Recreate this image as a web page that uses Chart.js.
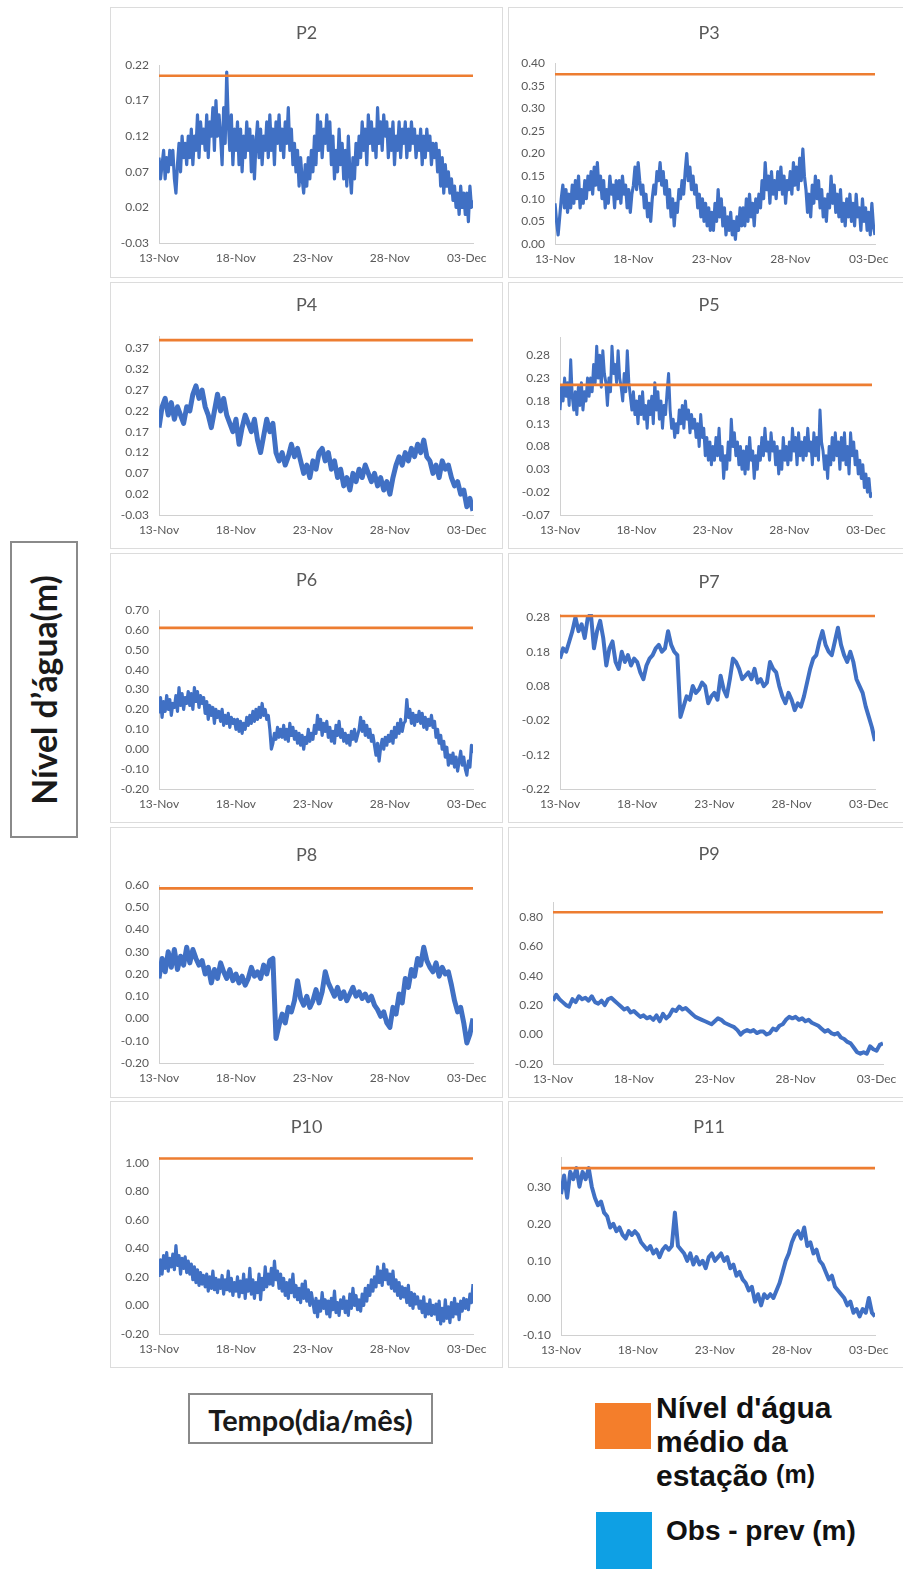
<!DOCTYPE html>
<html lang="pt">
<head>
<meta charset="utf-8">
<title>Nível d'água – estações P2 a P11</title>
<script src="https://cdn.jsdelivr.net/npm/chart.js@4.4.1/dist/chart.umd.min.js"></script>
<style>
  html, body { margin: 0; padding: 0; background: #fff; }
  body { width: 903px; height: 1569px; position: relative; overflow: hidden; }
  .panel { position: absolute; box-sizing: border-box; border: 1px solid #dcdcdc; background: #fff; }
  .panel canvas { position: absolute; left: 0; top: 0; }
  .labelbox { position: absolute; box-sizing: border-box; border: 2px solid #8a8a8a; background: #fff; }
  .labelbox span { position: absolute; left: 50%; top: 50%; white-space: nowrap;
    font-family: Lato, "Open Sans", sans-serif; font-weight: 700; color: #1a1a1a; }
  .vtext { transform: translate(-50%, -50%) rotate(-90deg); font-size: 26px; }
  .htext { transform: translate(-50%, -50%); font-size: 22px; }
  .swatch { position: absolute; }
  .legtext { position: absolute; white-space: nowrap; font-family: "Liberation Sans", Arial, sans-serif;
    font-weight: 700; font-size: 28px; line-height: 34px; color: #111; }
  .legtext.big { font-size: 30px; line-height: 34px; }
  .legtext .small { font-size: 25px; position: relative; top: -3px; }
</style>
</head>
<body>

<div class="labelbox" style="left:10px;top:541px;width:68px;height:297px;">
  <span class="vtext" data-fit="230">Nível d’água(m)</span>
</div>
<div class="labelbox" style="left:188px;top:1393px;width:245px;height:51px;">
  <span class="htext" data-fit="205">Tempo(dia/mês)</span>
</div>

<div class="swatch" style="left:595px;top:1403px;width:56px;height:46px;background:#F47E2B;"></div>
<div class="legtext big" style="left:656px;top:1391px;">Nível d'água<br>médio da<br>estação <span class="small">(m)</span></div>
<div class="swatch" style="left:596px;top:1512px;width:56px;height:57px;background:#0EA0E4;"></div>
<div class="legtext" style="left:666px;top:1514px;">Obs - prev (m)</div>

<script>
// Residual series start on 13-Nov 00:00; x is measured in days from that instant.
const X_MAX = 20.4;
const xTickDays = [0, 5, 10, 15, 20];
const xTickLabels = ['13-Nov', '18-Nov', '23-Nov', '28-Nov', '03-Dec'];

// ---- P2 (one value every 0.1 day) ----
const p2Obs = [
  0.09, 0.06, 0.08, 0.10, 0.06, 0.09, 0.07, 0.10, 0.08, 0.10,
  0.06, 0.04, 0.08, 0.11, 0.07, 0.12, 0.09, 0.11, 0.08, 0.12,
  0.09, 0.13, 0.08, 0.12, 0.10, 0.15, 0.09, 0.14, 0.11, 0.13,
  0.10, 0.15, 0.09, 0.14, 0.12, 0.16, 0.10, 0.17, 0.12, 0.15,
  0.12, 0.08, 0.16, 0.11, 0.21, 0.14, 0.10, 0.15, 0.08, 0.13,
  0.10, 0.14, 0.08, 0.13, 0.07, 0.12, 0.09, 0.14, 0.10, 0.13,
  0.07, 0.12, 0.06, 0.11, 0.14, 0.09, 0.13, 0.08, 0.12, 0.10,
  0.14, 0.09, 0.15, 0.10, 0.13, 0.08, 0.14, 0.11, 0.15, 0.10,
  0.13, 0.09, 0.14, 0.11, 0.16, 0.10, 0.13, 0.08, 0.11, 0.07,
  0.10, 0.05, 0.09, 0.06, 0.04, 0.08, 0.05, 0.09, 0.06, 0.10,
  0.07, 0.12, 0.08, 0.15, 0.10, 0.14, 0.09, 0.13, 0.11, 0.15,
  0.10, 0.14, 0.08, 0.12, 0.06, 0.10, 0.07, 0.13, 0.08, 0.11,
  0.06, 0.10, 0.05, 0.12, 0.07, 0.04, 0.09, 0.06, 0.11, 0.08,
  0.12, 0.09, 0.14, 0.10, 0.13, 0.08, 0.15, 0.11, 0.14, 0.10,
  0.13, 0.09, 0.16, 0.11, 0.14, 0.10, 0.15, 0.12, 0.14, 0.09,
  0.13, 0.10, 0.14, 0.08, 0.12, 0.10, 0.14, 0.09, 0.13, 0.11,
  0.14, 0.09, 0.13, 0.10, 0.14, 0.11, 0.13, 0.09, 0.12, 0.10,
  0.13, 0.08, 0.12, 0.09, 0.13, 0.10, 0.12, 0.08, 0.11, 0.09,
  0.11, 0.07, 0.10, 0.05, 0.09, 0.04, 0.08, 0.05, 0.07, 0.04,
  0.06, 0.03, 0.05, 0.02, 0.04, 0.01, 0.05, 0.02, 0.04, 0.01,
  0.04, 0.00, 0.05, 0.02, 0.03
];
const p2Mean = 0.205;
const p2Ticks = [-0.03, 0.02, 0.07, 0.12, 0.17, 0.22];
const p2Max = 0.22;

// ---- P3 (one value every 0.1 day) ----
const p3Obs = [
  0.09, 0.05, 0.02, 0.06, 0.10, 0.13, 0.08, 0.12, 0.07, 0.11,
  0.08, 0.13, 0.09, 0.14, 0.10, 0.15, 0.08, 0.12, 0.09, 0.14,
  0.10, 0.15, 0.12, 0.16, 0.11, 0.17, 0.13, 0.18, 0.12, 0.15,
  0.10, 0.14, 0.08, 0.12, 0.09, 0.15, 0.11, 0.13, 0.08, 0.14,
  0.10, 0.14, 0.09, 0.15, 0.11, 0.13, 0.08, 0.12, 0.07, 0.11,
  0.13, 0.17, 0.12, 0.18, 0.14, 0.11, 0.13, 0.08, 0.11, 0.06,
  0.09, 0.05, 0.10, 0.13, 0.11, 0.16, 0.14, 0.18, 0.13, 0.16,
  0.11, 0.14, 0.08, 0.12, 0.06, 0.10, 0.04, 0.09, 0.07, 0.12,
  0.10, 0.14, 0.11, 0.16, 0.20, 0.14, 0.17, 0.12, 0.15, 0.11,
  0.13, 0.08, 0.11, 0.06, 0.10, 0.05, 0.09, 0.04, 0.08, 0.03,
  0.07, 0.03, 0.09, 0.05, 0.12, 0.06, 0.10, 0.04, 0.08, 0.02,
  0.06, 0.03, 0.07, 0.02, 0.05, 0.01, 0.06, 0.03, 0.08, 0.04,
  0.08, 0.04, 0.10, 0.05, 0.11, 0.06, 0.09, 0.04, 0.10, 0.07,
  0.11, 0.08, 0.14, 0.10, 0.18, 0.12, 0.15, 0.09, 0.16, 0.11,
  0.14, 0.10, 0.16, 0.12, 0.17, 0.11, 0.15, 0.09, 0.14, 0.12,
  0.16, 0.11, 0.18, 0.13, 0.17, 0.12, 0.19, 0.14, 0.21, 0.15,
  0.12, 0.07, 0.11, 0.06, 0.13, 0.09, 0.15, 0.10, 0.14, 0.08,
  0.12, 0.06, 0.10, 0.05, 0.11, 0.08, 0.15, 0.09, 0.13, 0.07,
  0.11, 0.06, 0.12, 0.05, 0.09, 0.04, 0.10, 0.06, 0.11, 0.05,
  0.09, 0.04, 0.11, 0.06, 0.08, 0.03, 0.10, 0.05, 0.08, 0.03,
  0.07, 0.02, 0.09, 0.04, 0.02
];
const p3Mean = 0.375;
const p3Ticks = [0.00, 0.05, 0.10, 0.15, 0.20, 0.25, 0.30, 0.35, 0.40];
const p3Max = 0.40;

// ---- P4 (one value every 0.2 day) ----
const p4Obs = [
  0.18, 0.23, 0.25, 0.21, 0.24,  0.20, 0.23, 0.21, 0.19, 0.23,
  0.22, 0.26, 0.28, 0.25, 0.27,  0.23, 0.21, 0.18, 0.22, 0.26,
  0.22, 0.25, 0.21, 0.19, 0.17,  0.20, 0.14, 0.18, 0.21, 0.19,
  0.17, 0.20, 0.15, 0.12, 0.16,  0.20, 0.17, 0.19, 0.12, 0.10,
  0.12, 0.09, 0.11, 0.14, 0.11,  0.13, 0.10, 0.07, 0.09, 0.06,
  0.10, 0.08, 0.12, 0.13, 0.10,  0.12, 0.08, 0.10, 0.06, 0.08,
  0.04, 0.06, 0.03, 0.07, 0.05,  0.08, 0.06, 0.09, 0.07, 0.05,
  0.07, 0.04, 0.06, 0.03, 0.05,  0.02, 0.06, 0.09, 0.11, 0.09,
  0.12, 0.10, 0.13, 0.11, 0.14,  0.12, 0.15, 0.11, 0.10, 0.07,
  0.09, 0.06, 0.10, 0.08, 0.09,  0.06, 0.04, 0.05, 0.02, 0.03,
  -0.01, 0.01, -0.02
];
const p4Mean = 0.39;
const p4Ticks = [-0.03, 0.02, 0.07, 0.12, 0.17, 0.22, 0.27, 0.32, 0.37];
const p4Max = 0.40;

// ---- P5 (one value every 0.1 day) ----
const p5Obs = [
  0.16, 0.21, 0.18, 0.23, 0.19, 0.22, 0.17, 0.27, 0.19, 0.16,
  0.20, 0.15, 0.21, 0.17, 0.22, 0.16, 0.20, 0.18, 0.23, 0.19,
  0.23, 0.20, 0.26, 0.22, 0.30, 0.23, 0.28, 0.21, 0.29, 0.24,
  0.22, 0.17, 0.23, 0.20, 0.30, 0.24, 0.26, 0.22, 0.29, 0.23,
  0.21, 0.18, 0.24, 0.20, 0.29, 0.22, 0.19, 0.16, 0.20, 0.15,
  0.18, 0.13, 0.19, 0.15, 0.20, 0.14, 0.17, 0.12, 0.18, 0.15,
  0.19, 0.13, 0.22, 0.16, 0.20, 0.14, 0.18, 0.12, 0.17, 0.15,
  0.20, 0.24, 0.16, 0.12, 0.14, 0.10, 0.13, 0.11, 0.16, 0.13,
  0.17, 0.12, 0.18, 0.14, 0.16, 0.11, 0.15, 0.12, 0.14, 0.10,
  0.13, 0.08, 0.15, 0.10, 0.12, 0.06, 0.10, 0.05, 0.09, 0.04,
  0.08, 0.05, 0.10, 0.06, 0.12, 0.05, 0.08, 0.01, 0.06, 0.03,
  0.09, 0.05, 0.14, 0.08, 0.11, 0.06, 0.09, 0.04, 0.08, 0.03,
  0.07, 0.02, 0.08, 0.03, 0.10, 0.05, 0.07, 0.01, 0.06, 0.03,
  0.08, 0.05, 0.10, 0.06, 0.12, 0.07, 0.09, 0.05, 0.11, 0.07,
  0.09, 0.04, 0.08, 0.02, 0.07, 0.03, 0.10, 0.05, 0.08, 0.04,
  0.09, 0.05, 0.12, 0.07, 0.10, 0.04, 0.11, 0.06, 0.09, 0.05,
  0.10, 0.06, 0.12, 0.07, 0.09, 0.04, 0.11, 0.06, 0.10, 0.05,
  0.16, 0.09, 0.07, 0.03, 0.06, 0.01, 0.08, 0.04, 0.10, 0.05,
  0.11, 0.06, 0.09, 0.03, 0.10, 0.05, 0.11, 0.04, 0.08, 0.02,
  0.11, 0.06, 0.09, 0.04, 0.07, 0.02, 0.05, 0.01, 0.04, -0.01,
  0.02, -0.02, 0.01, -0.03, -0.02
];
const p5Mean = 0.215;
const p5Ticks = [-0.07, -0.02, 0.03, 0.08, 0.13, 0.18, 0.23, 0.28];
const p5Max = 0.32;

// ---- P6 (one value every 0.1 day) ----
const p6Obs = [
  0.18, 0.26, 0.16, 0.24, 0.19, 0.27, 0.20, 0.25, 0.17, 0.23,
  0.21, 0.27, 0.19, 0.31, 0.22, 0.28, 0.20, 0.26, 0.23, 0.29,
  0.22, 0.28, 0.20, 0.31, 0.24, 0.29, 0.21, 0.27, 0.23, 0.26,
  0.18, 0.24, 0.15, 0.22, 0.17, 0.21, 0.13, 0.20, 0.16, 0.19,
  0.14, 0.20, 0.12, 0.17, 0.13, 0.18, 0.11, 0.16, 0.13, 0.15,
  0.10, 0.15, 0.09, 0.14, 0.08, 0.13, 0.10, 0.16, 0.12, 0.17,
  0.13, 0.19, 0.14, 0.20, 0.15, 0.21, 0.16, 0.23, 0.17, 0.20,
  0.15, 0.17, 0.10, 0.00, 0.03, 0.08, 0.05, 0.11, 0.06, 0.10,
  0.06, 0.12, 0.05, 0.10, 0.04, 0.13, 0.07, 0.11, 0.05, 0.09,
  0.03, 0.08, 0.02, 0.07, 0.00, 0.06, 0.03, 0.10, 0.04, 0.08,
  0.05, 0.12, 0.08, 0.17, 0.10, 0.15, 0.07, 0.13, 0.09, 0.14,
  0.06, 0.11, 0.04, 0.09, 0.03, 0.12, 0.07, 0.14, 0.06, 0.10,
  0.04, 0.08, 0.03, 0.07, 0.02, 0.09, 0.05, 0.10, 0.04, 0.07,
  0.10, 0.16, 0.09, 0.14, 0.07, 0.12, 0.06, 0.10, 0.04, 0.07,
  0.02, -0.03, 0.03, -0.06, 0.01, 0.05, 0.00, 0.06, 0.02, 0.07,
  0.04, 0.09, 0.03, 0.11, 0.06, 0.13, 0.08, 0.15, 0.09, 0.13,
  0.14, 0.25, 0.16, 0.20, 0.13, 0.18, 0.12, 0.17, 0.14, 0.19,
  0.13, 0.18, 0.11, 0.16, 0.10, 0.15, 0.12, 0.17, 0.11, 0.14,
  0.06, 0.10, 0.03, 0.07, 0.00, 0.04, -0.04, 0.01, -0.08, -0.03,
  -0.07, -0.02, -0.09, -0.04, -0.11, -0.06, -0.01, -0.08, -0.04, -0.10,
  -0.13, -0.06, -0.09, 0.02, -0.02
];
const p6Mean = 0.61;
const p6Ticks = [-0.20, -0.10, 0.00, 0.10, 0.20, 0.30, 0.40, 0.50, 0.60, 0.70];
const p6Max = 0.70;

// ---- P7 (one value every 0.2 day) ----
const p7Obs = [
  0.16, 0.19, 0.18, 0.21, 0.24,  0.28, 0.24, 0.26, 0.22, 0.28,
  0.29, 0.19, 0.24, 0.27, 0.22,  0.14, 0.19, 0.21, 0.15, 0.13,
  0.18, 0.15, 0.17, 0.14, 0.16,  0.15, 0.12, 0.10, 0.14, 0.16,
  0.17, 0.19, 0.20, 0.18, 0.19,  0.24, 0.20, 0.18, 0.17, -0.01,
  0.02, 0.05, 0.04, 0.08, 0.06,  0.07, 0.09, 0.08, 0.03, 0.05,
  0.06, 0.04, 0.11, 0.07, 0.05,  0.10, 0.16, 0.15, 0.13, 0.10,
  0.11, 0.12, 0.10, 0.13, 0.09,  0.10, 0.08, 0.09, 0.15, 0.13,
  0.12, 0.08, 0.05, 0.03, 0.06,  0.04, 0.01, 0.03, 0.02, 0.05,
  0.09, 0.13, 0.16, 0.17, 0.21,  0.24, 0.20, 0.18, 0.17, 0.21,
  0.25, 0.20, 0.17, 0.15, 0.18,  0.15, 0.10, 0.08, 0.06, 0.02,
  -0.01, -0.04, -0.08
];
const p7Mean = 0.284;
const p7Ticks = [-0.22, -0.12, -0.02, 0.08, 0.18, 0.28];
const p7Max = 0.29;

// ---- P8 (one value every 0.2 day) ----
const p8Obs = [
  0.18, 0.27, 0.21, 0.30, 0.23,  0.31, 0.22, 0.28, 0.24, 0.32,
  0.25, 0.31, 0.27, 0.24, 0.26,  0.20, 0.23, 0.16, 0.22, 0.18,
  0.25, 0.21, 0.18, 0.22, 0.17,  0.20, 0.16, 0.19, 0.15, 0.18,
  0.23, 0.19, 0.21, 0.18, 0.24,  0.20, 0.26, 0.27, -0.09, -0.03,
  0.02, -0.02, 0.05, 0.03, 0.08,  0.17, 0.09, 0.06, 0.10, 0.05,
  0.08, 0.13, 0.07, 0.12, 0.21,  0.16, 0.13, 0.10, 0.14, 0.09,
  0.12, 0.08, 0.11, 0.14, 0.10,  0.12, 0.09, 0.11, 0.08, 0.10,
  0.06, 0.04, 0.01, 0.03, -0.02,  -0.04, 0.05, 0.02, 0.11, 0.07,
  0.18, 0.14, 0.22, 0.19, 0.27,  0.24, 0.32, 0.26, 0.23, 0.21,
  0.25, 0.19, 0.23, 0.20, 0.21,  0.15, 0.08, 0.03, 0.05, -0.02,
  -0.11, -0.07, 0.00
];
const p8Mean = 0.585;
const p8Ticks = [-0.20, -0.10, 0.00, 0.10, 0.20, 0.30, 0.40, 0.50, 0.60];
const p8Max = 0.60;

// ---- P9 (one value every 0.2 day) ----
const p9Obs = [
  0.23, 0.27, 0.24, 0.22, 0.20,  0.19, 0.24, 0.22, 0.26, 0.24,
  0.25, 0.23, 0.26, 0.22, 0.21,  0.23, 0.20, 0.24, 0.25, 0.23,
  0.21, 0.19, 0.17, 0.18, 0.15,  0.16, 0.14, 0.12, 0.13, 0.11,
  0.12, 0.10, 0.13, 0.09, 0.14,  0.11, 0.13, 0.17, 0.16, 0.19,
  0.17, 0.18, 0.16, 0.14, 0.12,  0.11, 0.10, 0.09, 0.08, 0.07,
  0.09, 0.11, 0.10, 0.08, 0.07,  0.06, 0.05, 0.03, 0.00, 0.02,
  0.03, 0.02, 0.03, 0.01, 0.02,  0.02, 0.00, 0.01, 0.04, 0.03,
  0.06, 0.07, 0.10, 0.12, 0.11,  0.12, 0.10, 0.11, 0.09, 0.10,
  0.08, 0.07, 0.06, 0.04, 0.02,  0.03, 0.01, 0.00, 0.01, -0.02,
  -0.03, -0.05, -0.06, -0.09, -0.12,  -0.13, -0.12, -0.13, -0.08, -0.10,
  -0.11, -0.07, -0.06
];
const p9Mean = 0.83;
const p9Ticks = [-0.20, 0.00, 0.20, 0.40, 0.60, 0.80];
const p9Max = 0.90;

// ---- P10 (one value every 0.1 day) ----
const p10Obs = [
  0.20, 0.32, 0.22, 0.35, 0.26, 0.37, 0.24, 0.33, 0.27, 0.36,
  0.25, 0.42, 0.28, 0.35, 0.22, 0.33, 0.26, 0.34, 0.23, 0.31,
  0.22, 0.29, 0.18, 0.27, 0.16, 0.25, 0.14, 0.23, 0.15, 0.21,
  0.13, 0.22, 0.10, 0.20, 0.12, 0.24, 0.11, 0.19, 0.09, 0.18,
  0.12, 0.21, 0.08, 0.18, 0.11, 0.24, 0.10, 0.19, 0.07, 0.16,
  0.10, 0.20, 0.06, 0.17, 0.09, 0.22, 0.05, 0.18, 0.10, 0.26,
  0.08, 0.18, 0.05, 0.16, 0.09, 0.22, 0.04, 0.19, 0.11, 0.27,
  0.13, 0.22, 0.15, 0.26, 0.14, 0.31, 0.18, 0.24, 0.12, 0.22,
  0.10, 0.19, 0.07, 0.16, 0.05, 0.18, 0.09, 0.22, 0.06, 0.14,
  0.04, 0.12, 0.02, 0.15, 0.05, 0.17, 0.03, 0.11, 0.00, 0.09,
  0.02, -0.05, 0.05, -0.08, 0.03, -0.04, 0.09, -0.02, 0.04, -0.06,
  0.03, -0.08, 0.05, -0.03, 0.10, -0.05, 0.02, -0.07, 0.04, -0.02,
  0.06, -0.05, 0.03, -0.07, 0.08, -0.02, 0.12, 0.00, 0.07, -0.03,
  0.04, -0.04, 0.08, 0.00, 0.12, 0.03, 0.14, 0.07, 0.18, 0.10,
  0.20, 0.13, 0.27, 0.16, 0.24, 0.14, 0.29, 0.18, 0.25, 0.15,
  0.22, 0.12, 0.24, 0.10, 0.18, 0.07, 0.16, 0.05, 0.13, 0.06,
  0.12, 0.02, 0.14, 0.00, 0.09, -0.02, 0.08, 0.01, 0.06, -0.02,
  0.03, -0.05, 0.06, -0.08, 0.01, -0.06, 0.04, -0.07, 0.00, -0.06,
  0.01, -0.10, 0.03, -0.13, -0.02, -0.11, 0.04, -0.09, -0.01, -0.12,
  0.02, -0.08, 0.05, -0.06, 0.01, -0.10, 0.03, -0.04, 0.05, -0.02,
  0.04, -0.03, 0.08, 0.02, 0.15
];
const p10Mean = 1.03;
const p10Ticks = [-0.20, 0.00, 0.20, 0.40, 0.60, 0.80, 1.00];
const p10Max = 1.04;

// ---- P11 (one value every 0.2 day) ----
const p11Obs = [
  0.28, 0.33, 0.27, 0.34, 0.32,  0.35, 0.30, 0.34, 0.32, 0.35,
  0.30, 0.27, 0.25, 0.26, 0.23,  0.22, 0.19, 0.20, 0.18, 0.19,
  0.17, 0.16, 0.18, 0.17, 0.18,  0.17, 0.15, 0.14, 0.13, 0.14,
  0.12, 0.13, 0.11, 0.13, 0.14,  0.13, 0.14, 0.23, 0.14, 0.13,
  0.12, 0.10, 0.12, 0.09, 0.11,  0.09, 0.10, 0.08, 0.11, 0.12,
  0.10, 0.11, 0.12, 0.10, 0.11,  0.08, 0.09, 0.06, 0.07, 0.05,
  0.04, 0.02, 0.03, -0.01, 0.01,  -0.02, 0.01, 0.00, 0.01, 0.00,
  0.02, 0.04, 0.07, 0.10, 0.12,  0.15, 0.17, 0.18, 0.16, 0.19,
  0.14, 0.15, 0.12, 0.13, 0.10,  0.09, 0.07, 0.05, 0.06, 0.03,
  0.02, 0.01, 0.00, -0.02, -0.01,  -0.04, -0.03, -0.05, -0.03, -0.04,
  0.00, -0.04, -0.05
];
const p11Mean = 0.35;
const p11Ticks = [-0.10, 0.00, 0.10, 0.20, 0.30];
const p11Max = 0.38;

// Panel frames (box: left, top, width, height), plotting areas (left, top, right, bottom),
// sampling step of each series and stroke width of the residual curve
const stations = [
  { name: 'P2',  obs: p2Obs,  step: 0.1, mean: p2Mean,  ticks: p2Ticks,  max: p2Max,  box: [110, 7, 393, 271],    plot: [159, 65, 473, 243],    titleY: 33,   lw: 3.2 },
  { name: 'P3',  obs: p3Obs,  step: 0.1, mean: p3Mean,  ticks: p3Ticks,  max: p3Max,  box: [508, 7, 402, 271],    plot: [555, 63, 875, 244],    titleY: 33,   lw: 3.2 },
  { name: 'P4',  obs: p4Obs,  step: 0.2, mean: p4Mean,  ticks: p4Ticks,  max: p4Max,  box: [110, 282, 393, 267],  plot: [159, 336, 473, 515],   titleY: 305,  lw: 5.0 },
  { name: 'P5',  obs: p5Obs,  step: 0.1, mean: p5Mean,  ticks: p5Ticks,  max: p5Max,  box: [508, 282, 402, 267],  plot: [560, 337, 872, 515],   titleY: 305,  lw: 3.0 },
  { name: 'P6',  obs: p6Obs,  step: 0.1, mean: p6Mean,  ticks: p6Ticks,  max: p6Max,  box: [110, 553, 393, 270],  plot: [159, 610, 473, 789],   titleY: 580,  lw: 3.2 },
  { name: 'P7',  obs: p7Obs,  step: 0.2, mean: p7Mean,  ticks: p7Ticks,  max: p7Max,  box: [508, 553, 402, 270],  plot: [560, 614, 875, 789],   titleY: 582,  lw: 4.0 },
  { name: 'P8',  obs: p8Obs,  step: 0.2, mean: p8Mean,  ticks: p8Ticks,  max: p8Max,  box: [110, 827, 393, 271],  plot: [159, 885, 473, 1063],  titleY: 855,  lw: 5.0 },
  { name: 'P9',  obs: p9Obs,  step: 0.2, mean: p9Mean,  ticks: p9Ticks,  max: p9Max,  box: [508, 827, 402, 271],  plot: [553, 902, 883, 1064],  titleY: 854,  lw: 4.0 },
  { name: 'P10', obs: p10Obs, step: 0.1, mean: p10Mean, ticks: p10Ticks, max: p10Max, box: [110, 1101, 393, 267], plot: [159, 1157, 473, 1334], titleY: 1127, lw: 3.2 },
  { name: 'P11', obs: p11Obs, step: 0.2, mean: p11Mean, ticks: p11Ticks, max: p11Max, box: [508, 1101, 402, 267], plot: [561, 1157, 875, 1335], titleY: 1127, lw: 4.0 }
];

const AXIS_GREY = '#d0d0d0';
const TEXT_GREY = '#595959';
const FONT = 'Lato, "Open Sans", sans-serif';

function drawStation(st) {
  const [bx, by, bw, bh] = st.box;
  const [pl, pt, pr, pb] = st.plot;
  const frame = document.createElement('div');
  frame.className = 'panel';
  Object.assign(frame.style, { left: bx + 'px', top: by + 'px', width: bw + 'px', height: bh + 'px' });
  const cw = bw - 2, ch = bh - 2;
  const cv = document.createElement('canvas');
  cv.width = cw; cv.height = ch;
  cv.style.width = cw + 'px'; cv.style.height = ch + 'px';
  frame.appendChild(cv);
  document.body.appendChild(frame);

  const ox = bx + 1, oy = by + 1;
  const titleSize = 18, titleLH = 1.2, titleH = titleSize * titleLH;
  const tTop = st.titleY - oy - titleH / 2;
  const tBottom = pt - oy - tTop - titleH;

  new Chart(cv, {
    type: 'line',
    data: {
      datasets: [
        {
          label: "Nível d'água médio da estação (m)",
          data: [{ x: 0, y: st.mean }, { x: X_MAX, y: st.mean }],
          borderColor: '#ED7D31', borderWidth: 2.6, pointRadius: 0
        },
        {
          label: 'Obs - prev (m)',
          data: st.obs.map((v, i) => ({ x: Math.round(i * st.step * 10) / 10, y: v })),
          borderColor: '#4070C4', borderWidth: st.lw, pointRadius: 0,
          borderJoinStyle: 'round', tension: 0
        }
      ]
    },
    options: {
      responsive: false, animation: false, devicePixelRatio: 1,
      layout: { padding: 0 },
      plugins: {
        legend: { display: false },
        tooltip: { enabled: false },
        title: {
          display: true, text: st.name, color: TEXT_GREY,
          font: { family: FONT, size: titleSize, weight: 'normal', lineHeight: titleLH },
          padding: { top: tTop, bottom: tBottom }
        }
      },
      scales: {
        x: {
          type: 'linear', min: 0, max: X_MAX,
          grid: { display: false, drawTicks: false },
          border: { display: true, color: AXIS_GREY, width: 1 },
          afterBuildTicks: s => { s.ticks = xTickDays.map(v => ({ value: v })); },
          afterFit: s => { s.height = oy + ch - pb; },
          ticks: {
            autoSkip: false, maxRotation: 0, padding: 8, color: TEXT_GREY,
            font: { family: FONT, size: 12 },
            callback: v => xTickLabels[xTickDays.indexOf(v)]
          }
        },
        y: {
          min: st.ticks[0], max: st.max,
          grid: { display: false, drawTicks: false },
          border: { display: true, color: AXIS_GREY, width: 1 },
          afterBuildTicks: s => { s.ticks = st.ticks.map(v => ({ value: v })); },
          afterFit: s => { s.width = pl - ox; },
          ticks: {
            autoSkip: false, padding: 10, color: TEXT_GREY,
            font: { family: FONT, size: 12 },
            callback: v => v.toFixed(2)
          }
        },
        // blank right-hand margin so the title stays centred on the whole frame
        margin: {
          type: 'linear', position: 'right', min: 0, max: 1,
          grid: { display: false, drawTicks: false },
          border: { display: false },
          ticks: { display: false },
          afterFit: s => { s.width = ox + cw - pr; }
        }
      }
    }
  });
}

function fitLabels() {
  document.querySelectorAll('[data-fit]').forEach(el => {
    const target = parseFloat(el.dataset.fit);
    const size = parseFloat(getComputedStyle(el).fontSize);
    const w = el.offsetWidth;
    if (w > 0) el.style.fontSize = (size * target / w).toFixed(2) + 'px';
  });
}

const start = () => { fitLabels(); stations.forEach(drawStation); };
if (document.fonts && document.fonts.ready) document.fonts.ready.then(start); else start();
</script>
</body>
</html>
